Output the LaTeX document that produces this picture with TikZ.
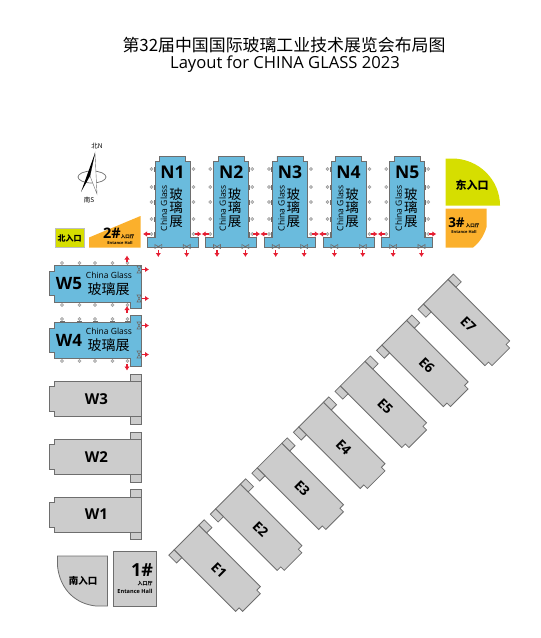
\documentclass[tikz,border=0pt]{standalone}
\usepackage{fontspec}
\setmainfont{Open Sans}
\newfontfamily\cjk{Noto Sans CJK SC}
\definecolor{hallBlue}{RGB}{106, 187, 221}
\definecolor{hallGray}{RGB}{204, 204, 204}
\definecolor{edgeGray}{RGB}{110, 110, 110}
\definecolor{doorGray}{RGB}{150, 150, 150}
\definecolor{gateYellow}{RGB}{214, 222, 0}
\definecolor{gateOrange}{RGB}{251, 176, 44}
\definecolor{arrowRed}{RGB}{230, 30, 50}
\usetikzlibrary{arrows.meta}
\tikzset{
  wall/.style={draw=edgeGray, line width=0.8pt, line join=miter},
  redarrow/.style={arrowRed, line width=1.2pt, -{Latex[length=4pt,width=5.5pt]}},
  doorpin/.style={draw=doorGray, fill=gray!45, line width=0.4pt},
  doortie/.style={draw=edgeGray, line width=0.6pt},
  hallname/.style={font=\bfseries\fontsize{17.5}{18}\selectfont, inner sep=0pt},
  hallcjk/.style={font=\cjk\fontsize{13.5}{13.5}\selectfont, inner sep=0pt},
  glassname/.style={font=\fontsize{8.5}{9}\selectfont, inner sep=0pt},
  gatename/.style={font=\cjk\bfseries\fontsize{9.5}{10}\selectfont, inner sep=0pt},
  tinyname/.style={font=\bfseries\fontsize{4}{4}\selectfont, inner sep=0pt},
  hallshape/.pic={
    \path[pic actions] (46,-17.5) -- (-41,-17.5) -- (-41,-12.5) -- (-46,-12.5) -- (-46,12.5)
      -- (-41,12.5) -- (-41,17.5) -- (46,17.5) -- cycle;
    \path[pic actions] (35,-25) rectangle (46,-17.5);
    \path[pic actions] (35,17.5) rectangle (46,25);
  }
}
\begin{document}
\begin{tikzpicture}[x=1pt, y=-1pt]
  \useasboundingbox (0,0) rectangle (541,638);
  % title
  \node[font=\cjk\fontsize{16.9}{17}\selectfont, inner sep=0pt] (titlecn) at (284,45) {第32届中国国际玻璃工业技术展览会布局图};
  \node[font=\fontsize{16.6}{17}\selectfont, inner sep=0pt] (titleen) at (285,64) {Layout for CHINA GLASS 2023};
  % compass
  \draw[edgeGray, line width=0.7pt] (92,177) ellipse (14 and 6);
  \fill[white, draw=edgeGray, line width=0.4pt] (95,153) -- (97,194) -- (90,176) -- cycle;
  \fill[black] (95,153) -- (81,192) -- (90,176) -- cycle;
  \node[font=\cjk\fontsize{6.5}{7}\selectfont, inner sep=0pt] (north) at (97,146.5) {北N};
  \node[font=\cjk\fontsize{6.5}{7}\selectfont, inner sep=0pt] (south) at (89,200) {南S};
  % north halls
  \foreach \i/\cx in {1/172.5, 2/231.2, 3/289.9, 4/348.6, 5/407.3} {
    \draw[wall, fill=hallBlue] (\cx-13,156) -- (\cx+13,156) -- (\cx+13,161) -- (\cx+17.5,161)
      -- (\cx+17.5,237) -- (\cx+25.5,237) -- (\cx+25.5,247) -- (\cx-25.5,247)
      -- (\cx-25.5,237) -- (\cx-17.5,237) -- (\cx-17.5,161) -- (\cx-13,161) -- cycle;
    \foreach \py in {169,187,202,219,234} {
      \draw[doorpin] (\cx-21,\py) circle (1.6);
      \draw[doorpin] (\cx+21,\py) circle (1.6);
      \fill[edgeGray] (\cx-18.5,\py-2.5) rectangle (\cx-17,\py+2.5);
      \fill[edgeGray] (\cx+17,\py-2.5) rectangle (\cx+18.5,\py+2.5);
    }
    \foreach \dx in {-14.2,14.2} {
      \draw[doortie] (\cx+\dx-3.5,244.5) -- (\cx+\dx+3.5,248.5) -- (\cx+\dx+3.5,244.5) -- (\cx+\dx-3.5,248.5) -- cycle;
      \draw[redarrow] (\cx+\dx,250) -- (\cx+\dx,257);
    }
    \draw[redarrow] (\cx-22.5,234) -- (\cx-29.5,234);
    \draw[redarrow] (\cx+22,234) -- (\cx+29,234);
    \node[hallname] (N\i) at (\cx,172) {N\i};
    \node[glassname, rotate=90] (glassN\i) at (\cx-8.5,208) {China Glass};
    \node[hallcjk, align=center] (cjkN\i) at (\cx+3.5,207.5) {玻\\璃\\展};
  }
  % west halls
  \foreach \i/\cy in {5/284, 4/340} {
    \foreach \px in {62,79.5,95,112.5,127.5} {
      \draw[doorpin] (\px,\cy-21) circle (1.6);
      \draw[doorpin] (\px,\cy+21) circle (1.6);
    }
  }
  \draw[wall, fill=hallBlue] (54,265.5) -- (141,265.5) -- (141,308) -- (130,308) -- (130,302) -- (54,302)
    -- (54,295.5) -- (49,295.5) -- (49,271.5) -- (54,271.5) -- cycle;
  \draw[wall, fill=hallBlue] (54,322.5) -- (130,322.5) -- (130,315.5) -- (141,315.5) -- (141,366) -- (130,366)
    -- (130,358.5) -- (54,358.5) -- (54,352) -- (49,352) -- (49,328.5) -- (54,328.5) -- cycle;
  \foreach \i/\cy in {5/284, 4/340} {
    \foreach \px in {62,79.5,95,112.5,127.5} {
      \fill[edgeGray] (\px-2.5,\cy-19) rectangle (\px+2.5,\cy-17.7);
      \fill[edgeGray] (\px-2.5,\cy+17.7) rectangle (\px+2.5,\cy+19);
    }
    \foreach \py in {-14.5,14.5} {
      \draw[doortie] (137,\cy+\py-3.5) -- (141,\cy+\py+3.5) -- (137,\cy+\py+3.5) -- (141,\cy+\py-3.5) -- cycle;
      \draw[redarrow] (142,\cy+\py) -- (149,\cy+\py);
    }
    \node[hallname, font=\bfseries\fontsize{17}{17}\selectfont] (W\i) at (69,\cy) {W\i};
    \node[glassname] (glassW\i) at (109,\cy-9) {China Glass};
    \node[hallcjk, font=\cjk\fontsize{14}{14}\selectfont] (cjkW\i) at (108.5,\cy+5) {玻璃展};
  }
  \draw[redarrow] (127,262) -- (127,255.5);
  \draw[redarrow] (127,312.5) -- (127,306);
  \draw[redarrow] (127,364) -- (127,370.5);
  % gray halls
  \foreach \i/\cy in {3/399, 2/457, 1/514.5} {
    \pic[wall, fill=hallGray] at (95,\cy) {hallshape};
    \node[hallname, font=\bfseries\fontsize{15}{15}\selectfont] (W\i) at (96.5,\cy) {W\i};
  }
  \foreach \i in {1,...,7} {
    \pic[wall, fill=hallGray, rotate=135] at ({219+41.55*(\i-1)},{570-40.95*(\i-1)}) {hallshape};
    \node[hallname, font=\bfseries\fontsize{13.5}{14}\selectfont, rotate=-45] (E\i) at ({219+41.55*(\i-1)},{570-40.95*(\i-1)}) {E\i};
  }
  % entrances
  \draw[draw=gray!50, fill=gateYellow, line width=0.8pt] (55,228) rectangle (84,247);
  \node[gatename, font=\cjk\bfseries\fontsize{8}{8}\selectfont] (gateN) at (69.5,238) {北入口};
  \fill[gateOrange] (89,237.5) -- (140.5,216) -- (140.5,247.5) -- (89,247.5) -- cycle;
  \node[font=\bfseries\fontsize{14.5}{15}\selectfont, inner sep=0pt] (hall2) at (112,233) {2\#};
  \node[font=\cjk\bfseries\fontsize{4.5}{5}\selectfont, inner sep=0pt] (hall2cn) at (127.5,236.5) {入口厅};
  \node[tinyname] (hall2en) at (120,242.5) {Entance Hall};
  \fill[gateYellow] (445.5,158.5) -- (452,158.5) .. controls (479,158.5) and (500,180) .. (500,205.5) -- (445.5,205.5) -- cycle;
  \node[gatename, font=\cjk\bfseries\fontsize{11}{11}\selectfont] (gateE) at (472,185) {东入口};
  \fill[gateOrange] (445.5,208.5) -- (486.5,208.5) -- (486.5,227) .. controls (484,236) and (479,243) .. (473,247.5) -- (445.5,247.5) -- cycle;
  \node[font=\bfseries\fontsize{13.5}{14}\selectfont, inner sep=0pt] (hall3) at (456.5,222.5) {3\#};
  \node[font=\cjk\bfseries\fontsize{4.5}{5}\selectfont, inner sep=0pt] (hall3cn) at (472.5,226) {入口厅};
  \node[tinyname] (hall3en) at (464,232) {Entance Hall};
  \draw[wall, fill=hallGray] (57.5,556) -- (107.5,556) -- (107.5,606) -- (96,606) .. controls (76,604) and (60,590) .. (57.5,566) -- cycle;
  \node[gatename] (gateS) at (83,581) {南入口};
  \draw[wall, fill=hallGray] (113.5,551) rectangle (156,606.5);
  \node[font=\bfseries\fontsize{18}{18}\selectfont, inner sep=0pt] (hall1) at (142,570.5) {1\#};
  \node[font=\cjk\bfseries\fontsize{5}{5}\selectfont, inner sep=0pt] (hall1cn) at (145,584) {入口厅};
  \node[font=\bfseries\fontsize{5.6}{6}\selectfont, inner sep=0pt] (hall1en) at (135,591) {Entance Hall};
\end{tikzpicture}
\end{document}
